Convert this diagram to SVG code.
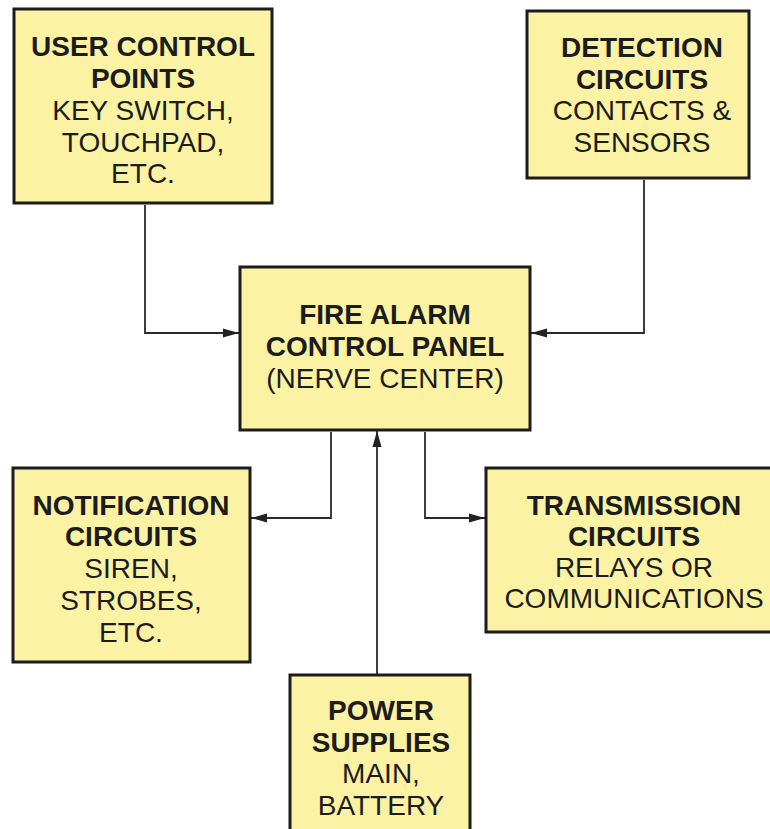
<svg xmlns="http://www.w3.org/2000/svg" width="770" height="829" viewBox="0 0 770 829">
  <defs>
    <marker id="arrow" viewBox="0 0 16 10" refX="16" refY="5" markerWidth="16" markerHeight="10" markerUnits="userSpaceOnUse" orient="auto">
      <path d="M0,0.5 L16,5 L0,9.5 Z" fill="#222"/>
    </marker>
    <style>
      .box { fill: #fbf2a4; stroke: #1c1c1c; stroke-width: 3; }
      .head { font-family: "Liberation Sans", Arial, sans-serif; font-weight: bold; font-size: 28px; fill: #1c1c1c; text-anchor: middle; }
      .body { font-family: "Liberation Sans", Arial, sans-serif; font-size: 28px; fill: #1c1c1c; text-anchor: middle; }
      .wire { fill: none; stroke: #2a2a2a; stroke-width: 1.8; marker-end: url(#arrow); }
    </style>
  </defs>
  <rect width="770" height="829" fill="#ffffff"/>

  <g id="connectors">
    <path class="wire" d="M145,205 V333 H239"/>
    <path class="wire" d="M644,180 V333 H531"/>
    <path class="wire" d="M331,432 V518 H251"/>
    <path class="wire" d="M425,432 V518 H485"/>
    <path class="wire" d="M377,674 V431"/>
  </g>

  <g id="user-control-points">
    <rect class="box" x="14" y="9" width="258" height="194"/>
    <text class="head" x="143" y="56">USER CONTROL</text>
    <text class="head" x="143" y="88">POINTS</text>
    <text class="body" x="143" y="120">KEY SWITCH,</text>
    <text class="body" x="143" y="152">TOUCHPAD,</text>
    <text class="body" x="143" y="183">ETC.</text>
  </g>

  <g id="detection-circuits">
    <rect class="box" x="527" y="11" width="222" height="167"/>
    <text class="head" x="642" y="57">DETECTION</text>
    <text class="head" x="642" y="89">CIRCUITS</text>
    <text class="body" x="642" y="120">CONTACTS &amp;</text>
    <text class="body" x="642" y="152">SENSORS</text>
  </g>

  <g id="control-panel">
    <rect class="box" x="240" y="267" width="290" height="163"/>
    <text class="head" x="385" y="324">FIRE ALARM</text>
    <text class="head" x="385" y="356">CONTROL PANEL</text>
    <text class="body" x="385" y="388">(NERVE CENTER)</text>
  </g>

  <g id="notification-circuits">
    <rect class="box" x="13" y="468" width="237" height="194"/>
    <text class="head" x="131" y="515">NOTIFICATION</text>
    <text class="head" x="131" y="546">CIRCUITS</text>
    <text class="body" x="131" y="578">SIREN,</text>
    <text class="body" x="131" y="610">STROBES,</text>
    <text class="body" x="131" y="642">ETC.</text>
  </g>

  <g id="transmission-circuits">
    <rect class="box" x="486" y="468" width="300" height="164"/>
    <text class="head" x="634" y="515">TRANSMISSION</text>
    <text class="head" x="634" y="546">CIRCUITS</text>
    <text class="body" x="634" y="577">RELAYS OR</text>
    <text class="body" x="634" y="608">COMMUNICATIONS</text>
  </g>

  <g id="power-supplies">
    <rect class="box" x="290" y="675" width="180" height="170"/>
    <text class="head" x="381" y="720">POWER</text>
    <text class="head" x="381" y="752">SUPPLIES</text>
    <text class="body" x="381" y="783">MAIN,</text>
    <text class="body" x="381" y="815">BATTERY</text>
  </g>
</svg>
